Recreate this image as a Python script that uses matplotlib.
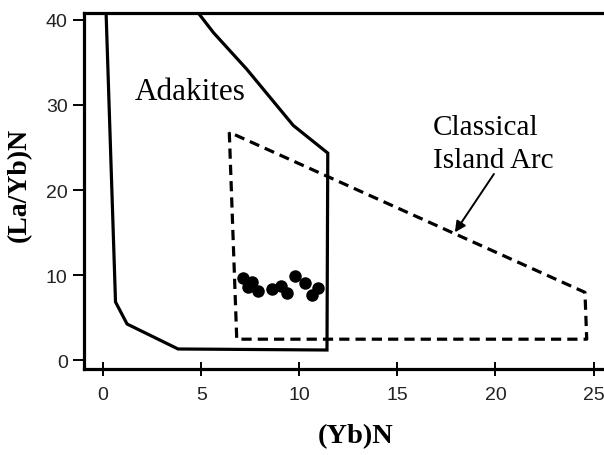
import matplotlib
matplotlib.use("Agg")
import matplotlib.pyplot as plt

# Adakite field boundary (open polygon, runs off the top of the plot)
adakite_x = [0.15, 0.63, 1.22, 3.82, 11.41, 11.45, 9.69, 7.32, 5.62, 4.85]
adakite_y = [40.8, 6.87, 4.28, 1.35, 1.23, 24.35, 27.6, 34.2, 38.5, 40.8]

# Classical island arc field (closed, dashed)
arc_x = [6.43, 6.81, 24.65, 24.56, 6.43]
arc_y = [26.8, 2.5, 2.5, 8.0, 26.8]

# Samples
yb_n = [7.13, 7.59, 7.39, 7.90, 8.60, 9.07, 9.37, 9.78, 10.29, 10.65, 10.95]
la_yb_n = [9.68, 9.21, 8.63, 8.16, 8.39, 8.74, 7.92, 9.92, 9.10, 7.69, 8.51]

x_ticks = [0, 5, 10, 15, 20, 25]
y_ticks = [0, 10, 20, 30, 40]

serif = ["Liberation Serif", "DejaVu Serif"]
sans = ["Liberation Sans", "DejaVu Sans"]

fig = plt.figure(figsize=(6.04, 4.56), dpi=100)
ax = fig.add_axes([0.1396, 0.1886, 0.887, 0.7807])

ax.plot(adakite_x, adakite_y, color="black", lw=2.3, solid_joinstyle="miter")
ax.plot(arc_x, arc_y, color="black", lw=2.3, dashes=(3.2, 1.9))
ax.plot(yb_n, la_yb_n, "o", color="black", ms=9, mew=0)

ax.text(1.63, 30.7, "Adakites", fontsize=22.5, family=serif, va="baseline")
ax.text(16.81, 26.6, "Classical", fontsize=21, family=serif, va="baseline")
ax.text(16.81, 22.7, "Island Arc", fontsize=21, family=serif, va="baseline")
ax.annotate("", xy=(17.93, 15.05), xytext=(19.92, 21.9),
            arrowprops=dict(arrowstyle="-|>", color="black", lw=1.4,
                            mutation_scale=16, shrinkA=0, shrinkB=0))

ax.set_xlim(-0.96, 26.35)
ax.set_ylim(-1.0, 40.8)
ax.set_xticks(x_ticks)
ax.set_yticks(y_ticks)

for side in ["left", "bottom", "top", "right"]:
    ax.spines[side].set_linewidth(2.3)

ax.tick_params(axis="y", direction="out", length=8, width=1.4, pad=4,
               labelsize=14, labelcolor="#222222")
ax.tick_params(axis="x", direction="inout", length=10, width=1.4, pad=7,
               labelsize=14, labelcolor="#222222")
for lbl in ax.get_xticklabels() + ax.get_yticklabels():
    lbl.set_family(sans)

ax.set_xlabel("(Yb)N", fontsize=20.5, fontweight="bold", family=serif)
ax.set_ylabel("(La/Yb)N", fontsize=20, fontweight="bold", family=serif)
ax.xaxis.set_label_coords(0.507, -0.152)
ax.yaxis.set_label_coords(-0.098, 0.52)

fig.savefig("out.png", dpi=100)
